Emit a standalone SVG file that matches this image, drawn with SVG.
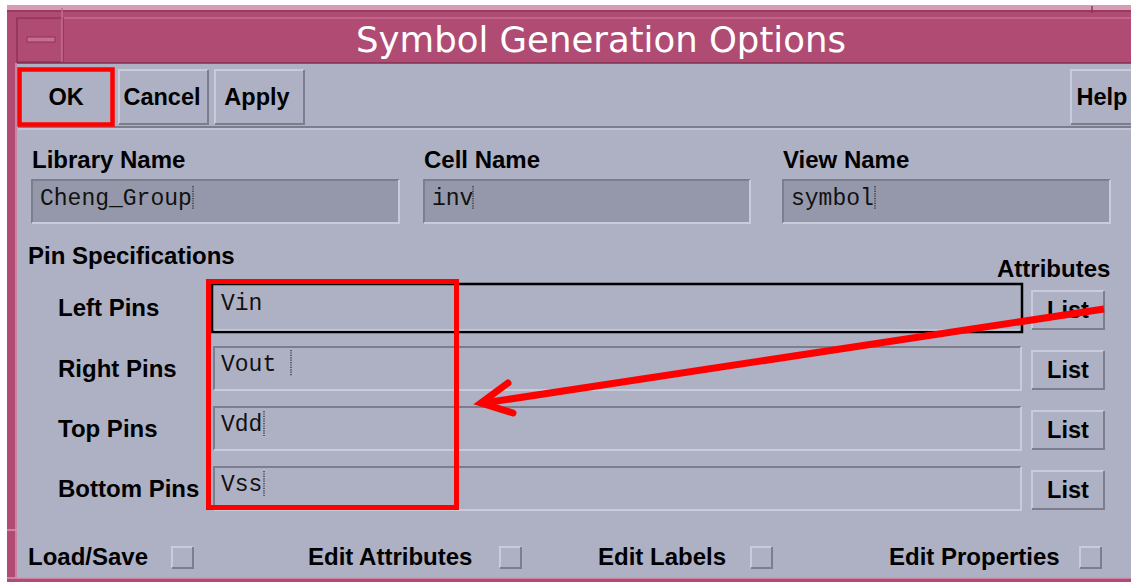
<svg xmlns="http://www.w3.org/2000/svg" width="1131" height="582" viewBox="0 0 1131 582">
<style>
.lbl{font-family:"Liberation Sans",Arial,sans-serif;font-weight:bold;font-size:24px;fill:#000}
.btn{font-family:"Liberation Sans",Arial,sans-serif;font-weight:bold;font-size:23.5px;fill:#000;text-anchor:middle}
.mono{font-family:"Liberation Mono","Courier New",monospace;font-size:23px;fill:#111}
.face{fill:#aeb1c4}
.hl{stroke:#c9cbdb;stroke-width:2;fill:none}
.sh{stroke:#7c7e8e;stroke-width:2;fill:none}
.field{fill:#9598aa}
.cur{stroke:#222;stroke-width:1.2;stroke-dasharray:1.2 1.2;fill:none}
</style>
<rect x="0" y="0" width="1131" height="582" fill="#ffffff"/>
<!-- window frame -->
<rect x="7" y="5" width="1124" height="577" fill="#b04b74"/>
<rect x="7" y="5" width="1124" height="5" fill="#d99ab4"/>
<line x1="7" y1="11" x2="1131" y2="11" stroke="#8e3558" stroke-width="1.5"/>
<line x1="1092" y1="6" x2="1092" y2="14" stroke="#8e3558" stroke-width="1.5"/>
<!-- title bar -->
<g id="titlebar">
<rect x="17" y="13" width="1114" height="49" fill="#b04b74"/>
<line x1="17" y1="18" x2="1131" y2="18" stroke="#c76c92" stroke-width="1.5"/>
<rect x="17" y="18" width="46" height="44" fill="#b04b74" stroke="#8e3558" stroke-width="1.5"/>
<line x1="62" y1="8" x2="62" y2="62" stroke="#c76c92" stroke-width="1.5"/>
<rect x="27" y="37" width="28" height="5" fill="#c76c92" stroke="#8e3558" stroke-width="1"/>
<text x="601" y="52" text-anchor="middle" font-family="'DejaVu Sans',sans-serif" font-size="35.5" fill="#ffffff">Symbol Generation Options</text>
</g>
<!-- body -->
<rect x="17" y="63" width="1114" height="515" class="face"/>
<line x1="17" y1="63" x2="1131" y2="63" stroke="#7e3050" stroke-width="1.5"/>
<line x1="16" y1="63" x2="16" y2="578" stroke="#d596b0" stroke-width="1.5"/>
<line x1="7" y1="530" x2="17" y2="530" stroke="#d596b0" stroke-width="1.5"/>
<line x1="18" y1="127" x2="1131" y2="127" stroke="#7c7e8e" stroke-width="2"/>
<line x1="18" y1="129" x2="1131" y2="129" stroke="#c9cbdb" stroke-width="1.5"/>
<rect x="7" y="578" width="1124" height="4" fill="#b04b74"/>
<line x1="7" y1="578" x2="1131" y2="578" stroke="#d596b0" stroke-width="1.5"/>

<!-- buttons -->
<g id="btn-ok">
<path d="M20 124 V70 H113" class="hl"/><path d="M113 70 V124 H20" class="sh"/>
<text x="66" y="105" class="btn">OK</text>
<rect x="19.5" y="69.5" width="93" height="55" fill="none" stroke="#ff0000" stroke-width="4.5"/>
</g>
<g id="btn-cancel">
<path d="M119 124 V70 H208" class="hl"/><path d="M208 70 V124 H119" class="sh"/>
<text x="162" y="105" class="btn">Cancel</text>
</g>
<g id="btn-apply">
<path d="M215 124 V70 H304" class="hl"/><path d="M304 70 V124 H215" class="sh"/>
<text x="257" y="105" class="btn">Apply</text>
</g>
<g id="btn-help">
<path d="M1071 124 V70 H1131" class="hl"/><path d="M1071 124 H1131" class="sh"/>
<text x="1102" y="105" class="btn">Help</text>
</g>

<!-- name fields -->
<g id="library-name">
<text x="32" y="168" class="lbl">Library Name</text>
<rect x="32" y="180" width="367" height="43" class="field"/>
<path d="M32 223 V180 H399" class="sh"/><path d="M399 180 V223 H32" class="hl"/>
<text x="40" y="205" class="mono">Cheng_Group</text>
<path d="M193 186 V210" class="cur"/>
</g>
<g id="cell-name">
<text x="424" y="168" class="lbl">Cell Name</text>
<rect x="424" y="180" width="326" height="43" class="field"/>
<path d="M424 223 V180 H750" class="sh"/><path d="M750 180 V223 H424" class="hl"/>
<text x="432" y="205" class="mono">inv</text>
<path d="M473 186 V210" class="cur"/>
</g>
<g id="view-name">
<text x="783" y="168" class="lbl">View Name</text>
<rect x="783" y="180" width="327" height="43" class="field"/>
<path d="M783 223 V180 H1110" class="sh"/><path d="M1110 180 V223 H783" class="hl"/>
<text x="791" y="205" class="mono">symbol</text>
<path d="M875 186 V210" class="cur"/>
</g>

<text x="28" y="264" class="lbl">Pin Specifications</text>
<text x="997" y="277" class="lbl">Attributes</text>

<!-- pin rows -->
<g id="left-pins">
<text x="58" y="316" class="lbl">Left Pins</text>
<rect x="212" y="284" width="810" height="48" fill="#aeb1c4" stroke="#000" stroke-width="2.5"/>
<line x1="214" y1="330" x2="1020" y2="330" stroke="#c9cbdb" stroke-width="1.5"/>
<text x="221" y="310" class="mono">Vin</text>
<path d="M1032 329 V291 H1104" class="hl"/><path d="M1104 291 V329 H1032" class="sh"/>
<text x="1068" y="318" class="btn">List</text>
</g>
<g id="right-pins">
<text x="58" y="377" class="lbl">Right Pins</text>
<path d="M214 390 V347 H1021" class="sh"/><path d="M1021 347 V390 H214" class="hl"/>
<text x="221" y="371" class="mono">Vout</text>
<path d="M291 350 V376" class="cur"/>
<path d="M1032 389 V351 H1104" class="hl"/><path d="M1104 351 V389 H1032" class="sh"/>
<text x="1068" y="378" class="btn">List</text>
</g>
<g id="top-pins">
<text x="58" y="437" class="lbl">Top Pins</text>
<path d="M214 450 V407 H1021" class="sh"/><path d="M1021 407 V450 H214" class="hl"/>
<text x="221" y="431" class="mono">Vdd</text>
<path d="M264 411 V436" class="cur"/>
<path d="M1032 449 V411 H1104" class="hl"/><path d="M1104 411 V449 H1032" class="sh"/>
<text x="1068" y="438" class="btn">List</text>
</g>
<g id="bottom-pins">
<text x="58" y="497" class="lbl">Bottom Pins</text>
<path d="M214 510 V467 H1021" class="sh"/><path d="M1021 467 V510 H214" class="hl"/>
<text x="221" y="491" class="mono">Vss</text>
<path d="M264 471 V496" class="cur"/>
<path d="M1032 509 V471 H1104" class="hl"/><path d="M1104 471 V509 H1032" class="sh"/>
<text x="1068" y="498" class="btn">List</text>
</g>

<!-- highlight box -->
<g id="pin-highlight">
<rect x="208.5" y="281.5" width="248" height="226" fill="none" stroke="#ff0000" stroke-width="5"/>
</g>

<!-- bottom toggles -->
<g id="load-save">
<text x="28" y="565" class="lbl">Load/Save</text>
<path d="M172 568 V547 H193" class="hl"/><path d="M193 547 V568 H172" class="sh"/>
</g>
<g id="edit-attributes">
<text x="308" y="565" class="lbl">Edit Attributes</text>
<path d="M500 568 V547 H521" class="hl"/><path d="M521 547 V568 H500" class="sh"/>
</g>
<g id="edit-labels">
<text x="598" y="565" class="lbl">Edit Labels</text>
<path d="M751 568 V547 H772" class="hl"/><path d="M772 547 V568 H751" class="sh"/>
</g>
<g id="edit-properties">
<text x="889" y="565" class="lbl">Edit Properties</text>
<path d="M1080 568 V547 H1101" class="hl"/><path d="M1101 547 V568 H1080" class="sh"/>
</g>

<!-- connector -->
<g id="connectors">
<line x1="1104" y1="309" x2="484" y2="403" stroke="#ff0000" stroke-width="7"/>
<path d="M508 383 L481 403 L513 413" fill="none" stroke="#ff0000" stroke-width="7" stroke-linecap="round" stroke-linejoin="miter"/>
</g>
</svg>
